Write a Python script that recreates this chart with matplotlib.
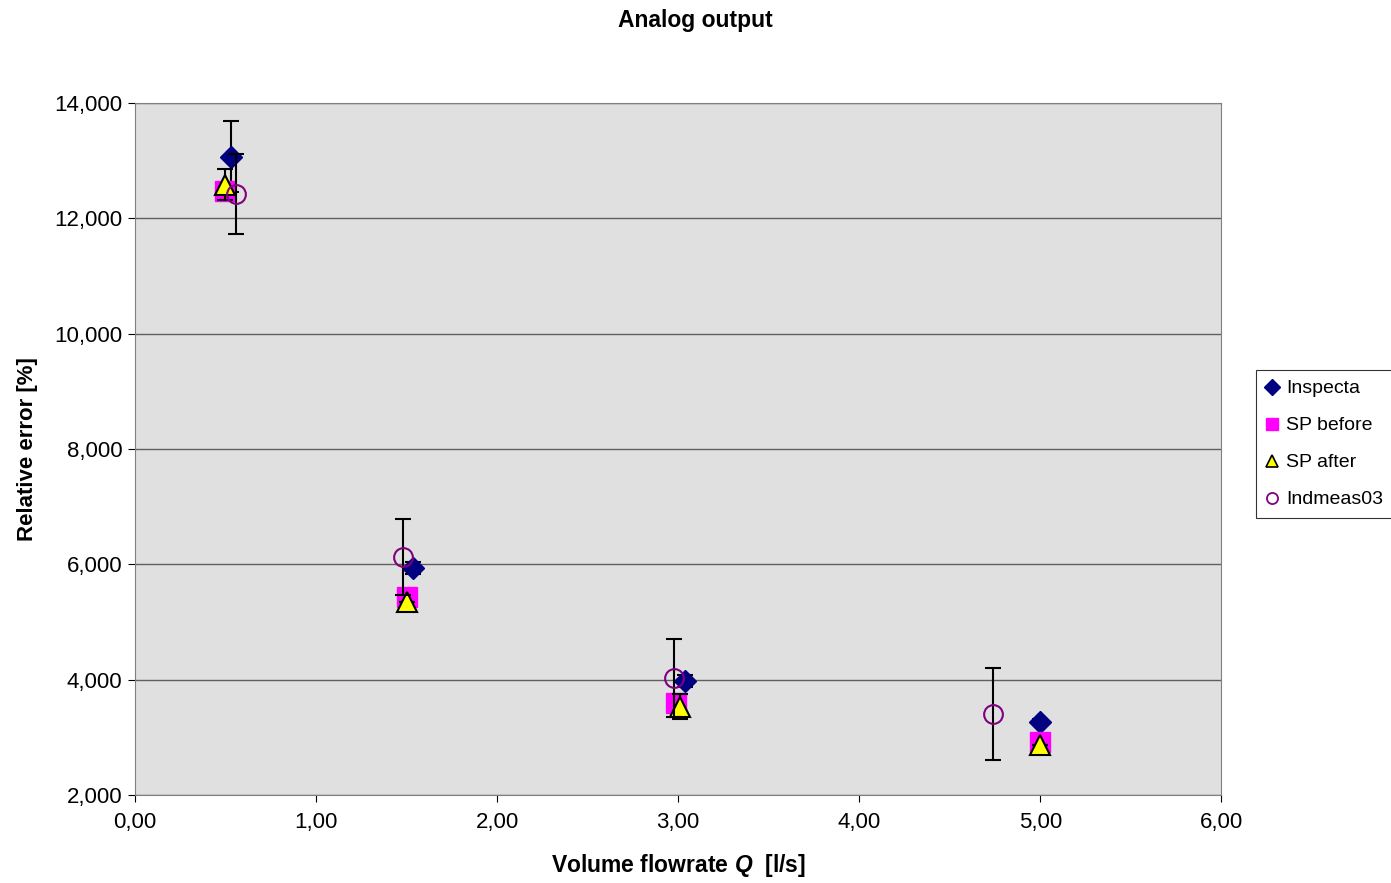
import matplotlib.pyplot as plt
from matplotlib.lines import Line2D
from matplotlib.ticker import FuncFormatter

plt.rcParams['font.family'] = ['Liberation Sans', 'DejaVu Sans']
plt.rcParams['mathtext.fontset'] = 'custom'
plt.rcParams['mathtext.bfit'] = 'Liberation Sans:bold:italic'

# data
inspecta_x = [0.53, 1.535, 3.04, 5.00]
inspecta_y = [13.07, 5.94, 3.98, 3.27]
inspecta_err = [0.62, 0.10, 0.10, 0.05]

sp_before_x = [0.50, 1.50, 2.99, 5.00]
sp_before_y = [12.47, 5.43, 3.60, 2.92]

sp_after_x = [0.50, 1.50, 3.01, 5.00]
sp_after_y = [12.58, 5.34, 3.53, 2.87]
sp_after_err = [0.27, 0.0, 0.22, 0.0]

indmeas_x = [0.56, 1.48, 2.98, 4.74]
indmeas_y = [12.42, 6.13, 4.03, 3.40]
indmeas_err = [0.69, 0.66, 0.68, 0.80]

labels = ['Inspecta', 'SP before', 'SP after', 'Indmeas03']

fig = plt.figure(figsize=(13.91, 8.83), dpi=100)
ax = fig.add_axes([0.097, 0.0997, 0.781, 0.7836])
ax.set_facecolor('#E0E0E0')

eb = dict(ecolor='black', elinewidth=1.5, capsize=5.5, capthick=1.5)
ax.errorbar(inspecta_x, inspecta_y, yerr=inspecta_err, fmt='D', color='#000080',
            markersize=11, zorder=3, **eb)
ax.plot(sp_before_x, sp_before_y, 's', color='#FF00FF', markersize=14, zorder=4)
ax.errorbar(sp_after_x, sp_after_y, yerr=sp_after_err, fmt='^', markerfacecolor='#FFFF00',
            markeredgecolor='black', markeredgewidth=1.5, markersize=15, zorder=5, **eb)
ax.errorbar(indmeas_x, indmeas_y, yerr=indmeas_err, fmt='o', markerfacecolor='none',
            markeredgecolor='#800080', markeredgewidth=1.5, markersize=13.5, zorder=6, **eb)

ax.set_xlim(0, 6)
ax.set_ylim(2, 14)
ax.set_xticks([0, 1, 2, 3, 4, 5, 6])
ax.set_yticks([2, 4, 6, 8, 10, 12, 14])
ax.xaxis.set_major_formatter(FuncFormatter(lambda v, p: f'{v:.2f}'.replace('.', ',')))
ax.yaxis.set_major_formatter(FuncFormatter(lambda v, p: f'{v:.3f}'.replace('.', ',')))
ax.tick_params(labelsize=16, direction='out', length=5, color='black', pad=4)
ax.tick_params(axis='x', pad=7)
ax.grid(axis='y', color='#606060', linewidth=1)
ax.set_axisbelow(True)
for s in ax.spines.values():
    s.set_color('#808080')

ax.set_xlabel(r'Volume flowrate $\mathbfit{Q}$  [l/s]', fontsize=16.5, fontweight='bold', labelpad=14)
ax.set_ylabel('Relative error [%]', fontsize=16, fontweight='bold', labelpad=12)
fig.text(0.5, 0.977, 'Analog output', ha='center', va='center', fontsize=16.5, fontweight='bold')

handles = [
    Line2D([], [], ls='none', marker='D', color='#000080', markersize=8),
    Line2D([], [], ls='none', marker='s', color='#FF00FF', markersize=9),
    Line2D([], [], ls='none', marker='^', markerfacecolor='#FFFF00', markeredgecolor='black',
           markeredgewidth=1.2, markersize=9),
    Line2D([], [], ls='none', marker='o', markerfacecolor='none', markeredgecolor='#800080',
           markeredgewidth=1.3, markersize=8),
]
leg = fig.legend(handles, labels, loc='upper left', bbox_to_anchor=(1256 / 1391, 1 - 370 / 883),
                 fontsize=14, frameon=True, fancybox=False,
                 handlelength=0.6, handletextpad=0.45, labelspacing=1.0, borderpad=0.5,
                 borderaxespad=0)
leg.get_frame().set_edgecolor('black')
leg.get_frame().set_linewidth(0.8)

fig.savefig('out.png', dpi=100)
